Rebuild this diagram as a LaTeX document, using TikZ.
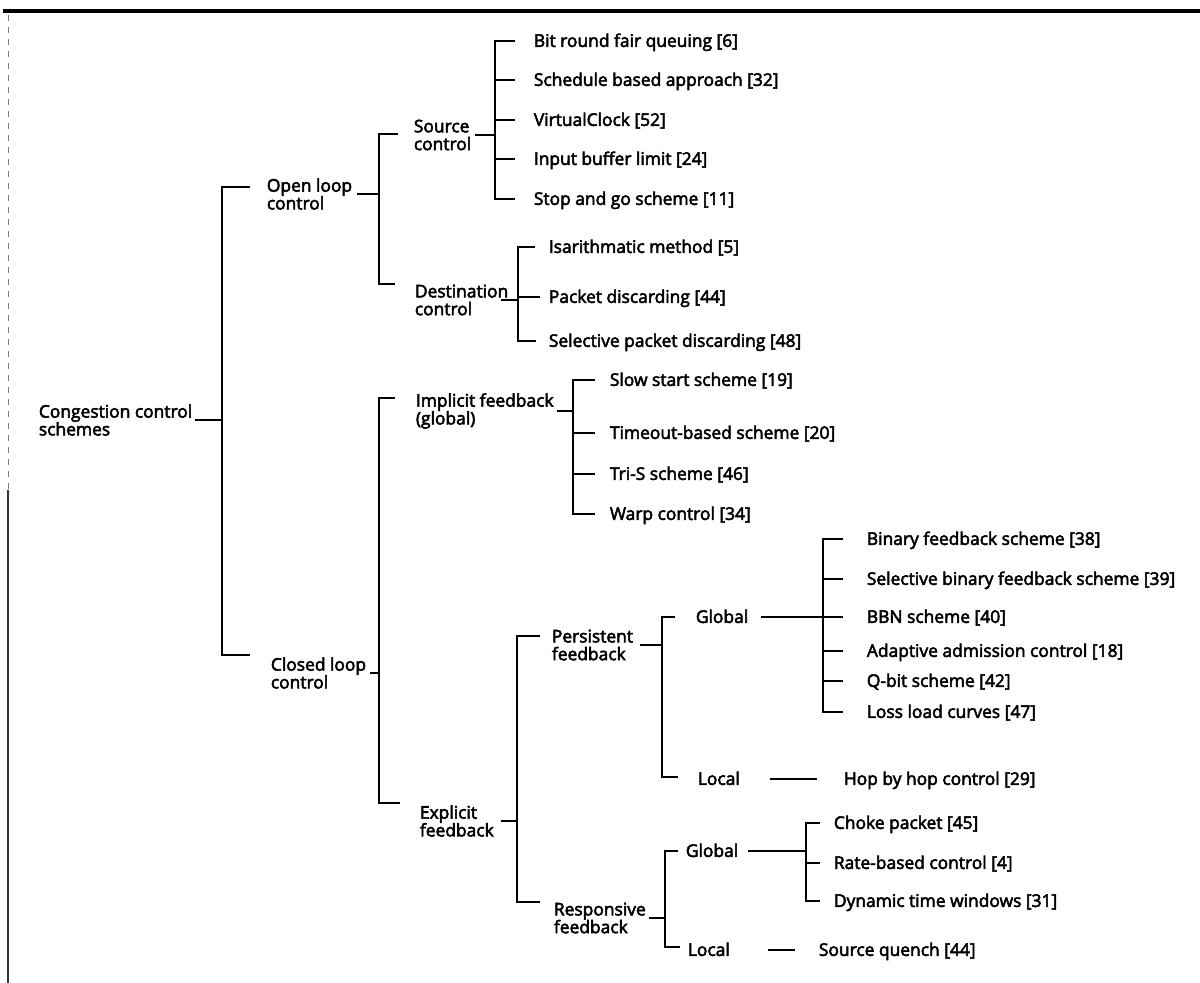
\documentclass[tikz,border=0pt]{standalone}
\usepackage{fontspec}
\setmainfont{Open Sans}[RawFeature={embolden=3}]
\usetikzlibrary{calc}
\begin{document}
\begin{tikzpicture}[x=0.5pt,y=-0.5pt,line width=0.9pt,
  lbl/.style={anchor=west,inner sep=0pt,font=\fontsize{8.7}{8.9}\selectfont,text height=1.45ex,text depth=0.35ex},
  ml/.style={anchor=west,inner sep=0pt,font=\fontsize{8.7}{8.9}\selectfont,align=left}]
\useasboundingbox (0,0) rectangle (1200,983);
% page edges of the scan
\draw[line width=1.6pt] (3,11) -- (1200,11);
\draw[line width=0.4pt,gray,dashed] (8,15) -- (8,490);
\draw[line width=0.7pt,black!80] (8,490) -- (8,983);

% inner nodes
\node[ml] (root) at (38,420) {Congestion control\\schemes};
\node[ml] (open) at (266,194) {Open loop\\control};
\node[ml] (closed) at (270,673) {Closed loop\\control};
\node[ml] (src) at (413,135) {Source\\control};
\node[ml] (dst) at (414,300) {Destination\\control};
\node[ml] (impl) at (415,411) {Implicit feedback\\(global)};
\node[ml] (expl) at (419,821) {Explicit\\feedback};
\node[ml] (pers) at (551,645) {Persistent\\feedback};
\node[ml] (resp) at (553,918) {Responsive\\feedback};
\node[lbl] (gP) at (695,617) {Global};
\node[lbl] (lP) at (697,779) {Local};
\node[lbl] (gR) at (685,851) {Global};
\node[lbl] (lR) at (687,950) {Local};

% leaves
\node[lbl] (s1) at (533,41) {Bit round fair queuing [6]};
\node[lbl] (s2) at (533,80) {Schedule based approach [32]};
\node[lbl] (s3) at (533,120) {VirtualClock [52]};
\node[lbl] (s4) at (533,159) {Input buffer limit [24]};
\node[lbl] (s5) at (533,199) {Stop and go scheme [11]};
\node[lbl] (d1) at (548,247) {Isarithmatic method [5]};
\node[lbl] (d2) at (548,297) {Packet discarding [44]};
\node[lbl] (d3) at (548,341) {Selective packet discarding [48]};
\node[lbl] (i1) at (609,380) {Slow start scheme [19]};
\node[lbl] (i2) at (609,433) {Timeout-based scheme [20]};
\node[lbl] (i3) at (609,474) {Tri-S scheme [46]};
\node[lbl] (i4) at (609,514) {Warp control [34]};
\node[lbl] (g1) at (866,539) {Binary feedback scheme [38]};
\node[lbl] (g2) at (866,579) {Selective binary feedback scheme [39]};
\node[lbl] (g3) at (866,617) {BBN scheme [40]};
\node[lbl] (g4) at (866,651) {Adaptive admission control [18]};
\node[lbl] (g5) at (866,681) {Q-bit scheme [42]};
\node[lbl] (g6) at (866,712) {Loss load curves [47]};
\node[lbl] (h1) at (843,779) {Hop by hop control [29]};
\node[lbl] (r1) at (833,823) {Choke packet [45]};
\node[lbl] (r2) at (833,863) {Rate-based control [4]};
\node[lbl] (r3) at (833,901) {Dynamic time windows [31]};
\node[lbl] (q1) at (818,950) {Source quench [44]};

% bracket junctions
\coordinate (eOpen) at (222,187);
\coordinate (eClosed) at (222,655);
\coordinate (eSrc) at (379,134);
\coordinate (eDst) at (379,284);
\coordinate (eImpl) at (379,398);
\coordinate (eExpl) at (379,803);
\coordinate (ePers) at (517,636);
\coordinate (eResp) at (517,902);
\coordinate (egP) at (662,617);
\coordinate (elP) at (662,777);
\coordinate (egR) at (665,851);
\coordinate (elR) at (665,947);
\coordinate (bSrc) at (495,0);
\coordinate (bDst) at (518,0);
\coordinate (bImpl) at (573,0);
\coordinate (bgP) at (823,0);
\coordinate (bgR) at (806,0);

% root
\draw ($(root.east)+(2,0)$) -- (root.east -| eOpen);
\draw ($(eOpen -| open.west)+(-16,0)$) -- (eOpen) -- (eClosed) -- ($(eClosed -| closed.west)+(-20,0)$);
% open loop
\draw ($(open.east)+(4,0)$) -- (open.east -| eSrc);
\draw ($(eSrc -| src.west)+(-15,0)$) -- (eSrc) -- (eDst) -- ($(eDst -| dst.west)+(-19,0)$);
% source control
\draw ($(src.east)+(3,0)$) -- (src.east -| bSrc);
\draw ($(bSrc |- s1)+(20,0)$) -- (bSrc |- s1) -- (bSrc |- s5) -- ($(bSrc |- s5)+(20,0)$);
\foreach \n in {s2,s3,s4} \draw (bSrc |- \n) -- ($(bSrc |- \n)+(20,0)$);
% destination control
\draw ($(dst.east)+(-8,0)$) -- (dst.east -| bDst);
\draw ($(bDst |- d1)+(17,0)$) -- (bDst |- d1) -- (bDst |- d3) -- ($(bDst |- d3)+(18,0)$);
\draw (bDst |- d2) -- ($(bDst |- d2)+(22,0)$);
% closed loop
\draw ($(closed.east)+(3,0)$) -- (closed.east -| eImpl);
\draw ($(eImpl -| impl.west)+(-20,0)$) -- (eImpl) -- (eExpl) -- ($(eExpl -| expl.west)+(-19,0)$);
% implicit feedback
\draw ($(impl.east)+(3,0)$) -- (impl.east -| bImpl);
\draw ($(bImpl |- i1)+(22,0)$) -- (bImpl |- i1) -- (bImpl |- i4) -- ($(bImpl |- i4)+(22,0)$);
\foreach \n in {i2,i3} \draw (bImpl |- \n) -- ($(bImpl |- \n)+(22,0)$);
% explicit feedback
\draw ($(expl.east)+(6,0)$) -- (expl.east -| ePers);
\draw ($(ePers -| pers.west)+(-11,0)$) -- (ePers) -- (eResp) -- ($(eResp -| resp.west)+(-13,0)$);
% persistent feedback
\draw ($(pers.east)+(6,0)$) -- (pers.east -| egP);
\draw ($(egP -| gP.west)+(-20,0)$) -- (egP) -- (elP) -- ($(elP -| lP.west)+(-19,0)$);
\draw ($(gP.east)+(12,0)$) -- (gP.east -| bgP);
\draw ($(bgP |- g1)+(20,0)$) -- (bgP |- g1) -- (bgP |- g6) -- ($(bgP |- g6)+(20,0)$);
\foreach \n in {g2,g3,g4,g5} \draw (bgP |- \n) -- ($(bgP |- \n)+(20,0)$);
\draw ($(lP.east)+(29,0)$) -- ($(h1.west)+(-26,0)$);
% responsive feedback
\draw ($(resp.east)+(2,0)$) -- (resp.east -| egR);
\draw ($(egR -| gR.west)+(-7,0)$) -- (egR) -- (elR) -- ($(elR -| lR.west)+(-7,0)$);
\draw ($(gR.east)+(9,0)$) -- (gR.east -| bgR);
\draw ($(bgR |- r1)+(14,0)$) -- (bgR |- r1) -- (bgR |- r3) -- ($(bgR |- r3)+(14,0)$);
\draw (bgR |- r2) -- ($(bgR |- r2)+(14,0)$);
\draw ($(lR.east)+(37,0)$) -- ($(q1.west)+(-23,0)$);
\end{tikzpicture}
\end{document}
